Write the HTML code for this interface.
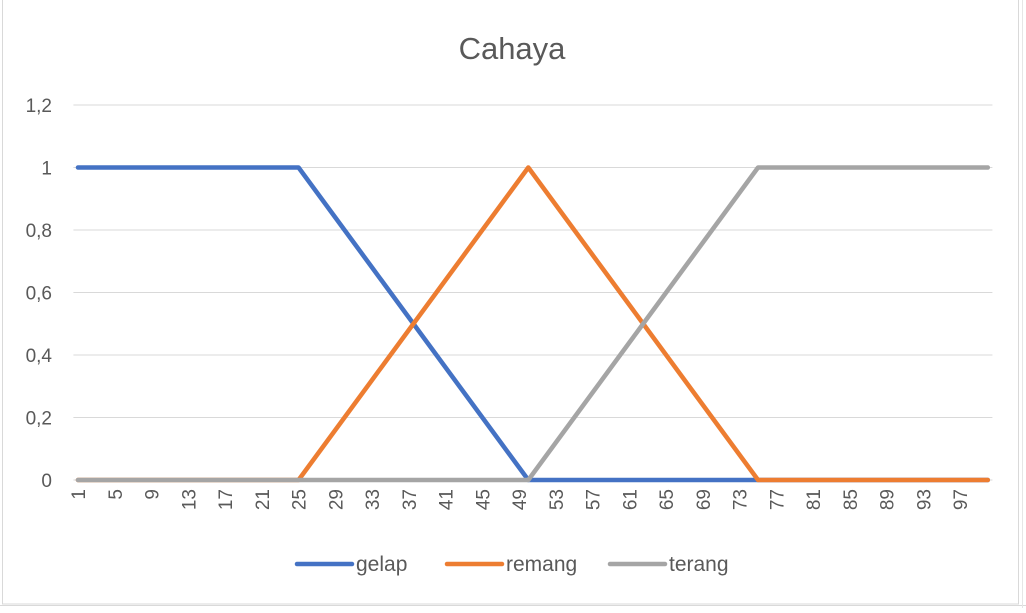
<!DOCTYPE html>
<html><head><meta charset="utf-8"><style>
body{margin:0;background:#fff;font-family:"Liberation Sans",Calibri,sans-serif;}
</style></head><body>
<svg width="1026" height="608" xmlns="http://www.w3.org/2000/svg">
<rect x="0" y="0" width="1026" height="608" fill="#fff"/>
<line x1="0" y1="605.5" x2="1026" y2="605.5" stroke="#d9d9d9"/>
<rect x="2.5" y="-1" width="1016" height="605" fill="#fff" stroke="#d9d9d9"/>
<line x1="1022.5" y1="0" x2="1022.5" y2="608" stroke="#e6e6e6"/>
<text x="512" y="59" text-anchor="middle" font-size="31" fill="#595959">Cahaya</text>
<g id="grid"></g><g id="ylab"></g><g id="xlab"></g><g id="lines"></g>
<g font-size="21" fill="#595959">
<line x1="297" y1="564" x2="352" y2="564" stroke="#4472c4" stroke-width="4.5" stroke-linecap="round"/>
<text x="356" y="571">gelap</text>
<line x1="447" y1="564" x2="502" y2="564" stroke="#ed7d31" stroke-width="4.5" stroke-linecap="round"/>
<text x="506" y="571">remang</text>
<line x1="610" y1="564" x2="665" y2="564" stroke="#a5a5a5" stroke-width="4.5" stroke-linecap="round"/>
<text x="669" y="571">terang</text>
</g>
</svg>
<script>
const yTicks=[0,0.2,0.4,0.6,0.8,1,1.2];
const yTickLabels=["0","0,2","0,4","0,6","0,8","1","1,2"];
const gelap=[1,1,1,1,1,1,1,1,1,1,1,1,1,1,1,1,1,1,1,1,1,1,1,1,1,0.96,0.92,0.88,0.84,0.8,0.76,0.72,0.68,0.64,0.6,0.56,0.52,0.48,0.44,0.4,0.36,0.32,0.28,0.24,0.2,0.16,0.12,0.08,0.04,0,0,0,0,0,0,0,0,0,0,0,0,0,0,0,0,0,0,0,0,0,0,0,0,0,0,0,0,0,0,0,0,0,0,0,0,0,0,0,0,0,0,0,0,0,0,0,0,0,0,0];
const remang=[0,0,0,0,0,0,0,0,0,0,0,0,0,0,0,0,0,0,0,0,0,0,0,0,0,0.04,0.08,0.12,0.16,0.2,0.24,0.28,0.32,0.36,0.4,0.44,0.48,0.52,0.56,0.6,0.64,0.68,0.72,0.76,0.8,0.84,0.88,0.92,0.96,1,0.96,0.92,0.88,0.84,0.8,0.76,0.72,0.68,0.64,0.6,0.56,0.52,0.48,0.44,0.4,0.36,0.32,0.28,0.24,0.2,0.16,0.12,0.08,0.04,0,0,0,0,0,0,0,0,0,0,0,0,0,0,0,0,0,0,0,0,0,0,0,0,0,0];
const terang=[0,0,0,0,0,0,0,0,0,0,0,0,0,0,0,0,0,0,0,0,0,0,0,0,0,0,0,0,0,0,0,0,0,0,0,0,0,0,0,0,0,0,0,0,0,0,0,0,0,0,0.04,0.08,0.12,0.16,0.2,0.24,0.28,0.32,0.36,0.4,0.44,0.48,0.52,0.56,0.6,0.64,0.68,0.72,0.76,0.8,0.84,0.88,0.92,0.96,1,1,1,1,1,1,1,1,1,1,1,1,1,1,1,1,1,1,1,1,1,1,1,1,1,1];
const categories=[];for(let i=1;i<=100;i++)categories.push(i);
const NS="http://www.w3.org/2000/svg";
const L=73.4,W=919,Y0=480,Y1=105;
const x=i=>L+(i+0.5)*W/categories.length;
const y=v=>Y0-(v/1.2)*(Y0-Y1);
function mk(t,a,p){const e=document.createElementNS(NS,t);for(const k in a)e.setAttribute(k,a[k]);document.getElementById(p).appendChild(e);return e;}
yTicks.forEach((v,k)=>{
 const g=mk('line',{x1:L,x2:L+W,y1:y(v),y2:y(v),stroke:'#d9d9d9','stroke-width':1},'grid');
 
 
 const t=mk('text',{x:52,y:y(v)+7,'text-anchor':'end','font-size':19,fill:'#595959'},'ylab');
 t.textContent=yTickLabels[k];
 
 
});
categories.forEach((c,i)=>{
 if(i%4!==0)return;
 const t=mk('text',{x:0,y:0,'text-anchor':'end','font-size':19,fill:'#595959',transform:`translate(${x(i)+7},489) rotate(-90)`},'xlab');
 t.textContent=c;
 
 
});
[[gelap,'#4472c4','gelap'],[remang,'#ed7d31','remang'],[terang,'#a5a5a5','terang']].forEach(([d,c,n])=>{
 const p=mk('polyline',{points:d.map((v,i)=>x(i)+','+y(v)).join(' '),fill:'none',stroke:c,'stroke-width':4.5,'stroke-linejoin':'round','stroke-linecap':'round'},'lines');
 
 
});
</script>
</body></html>
